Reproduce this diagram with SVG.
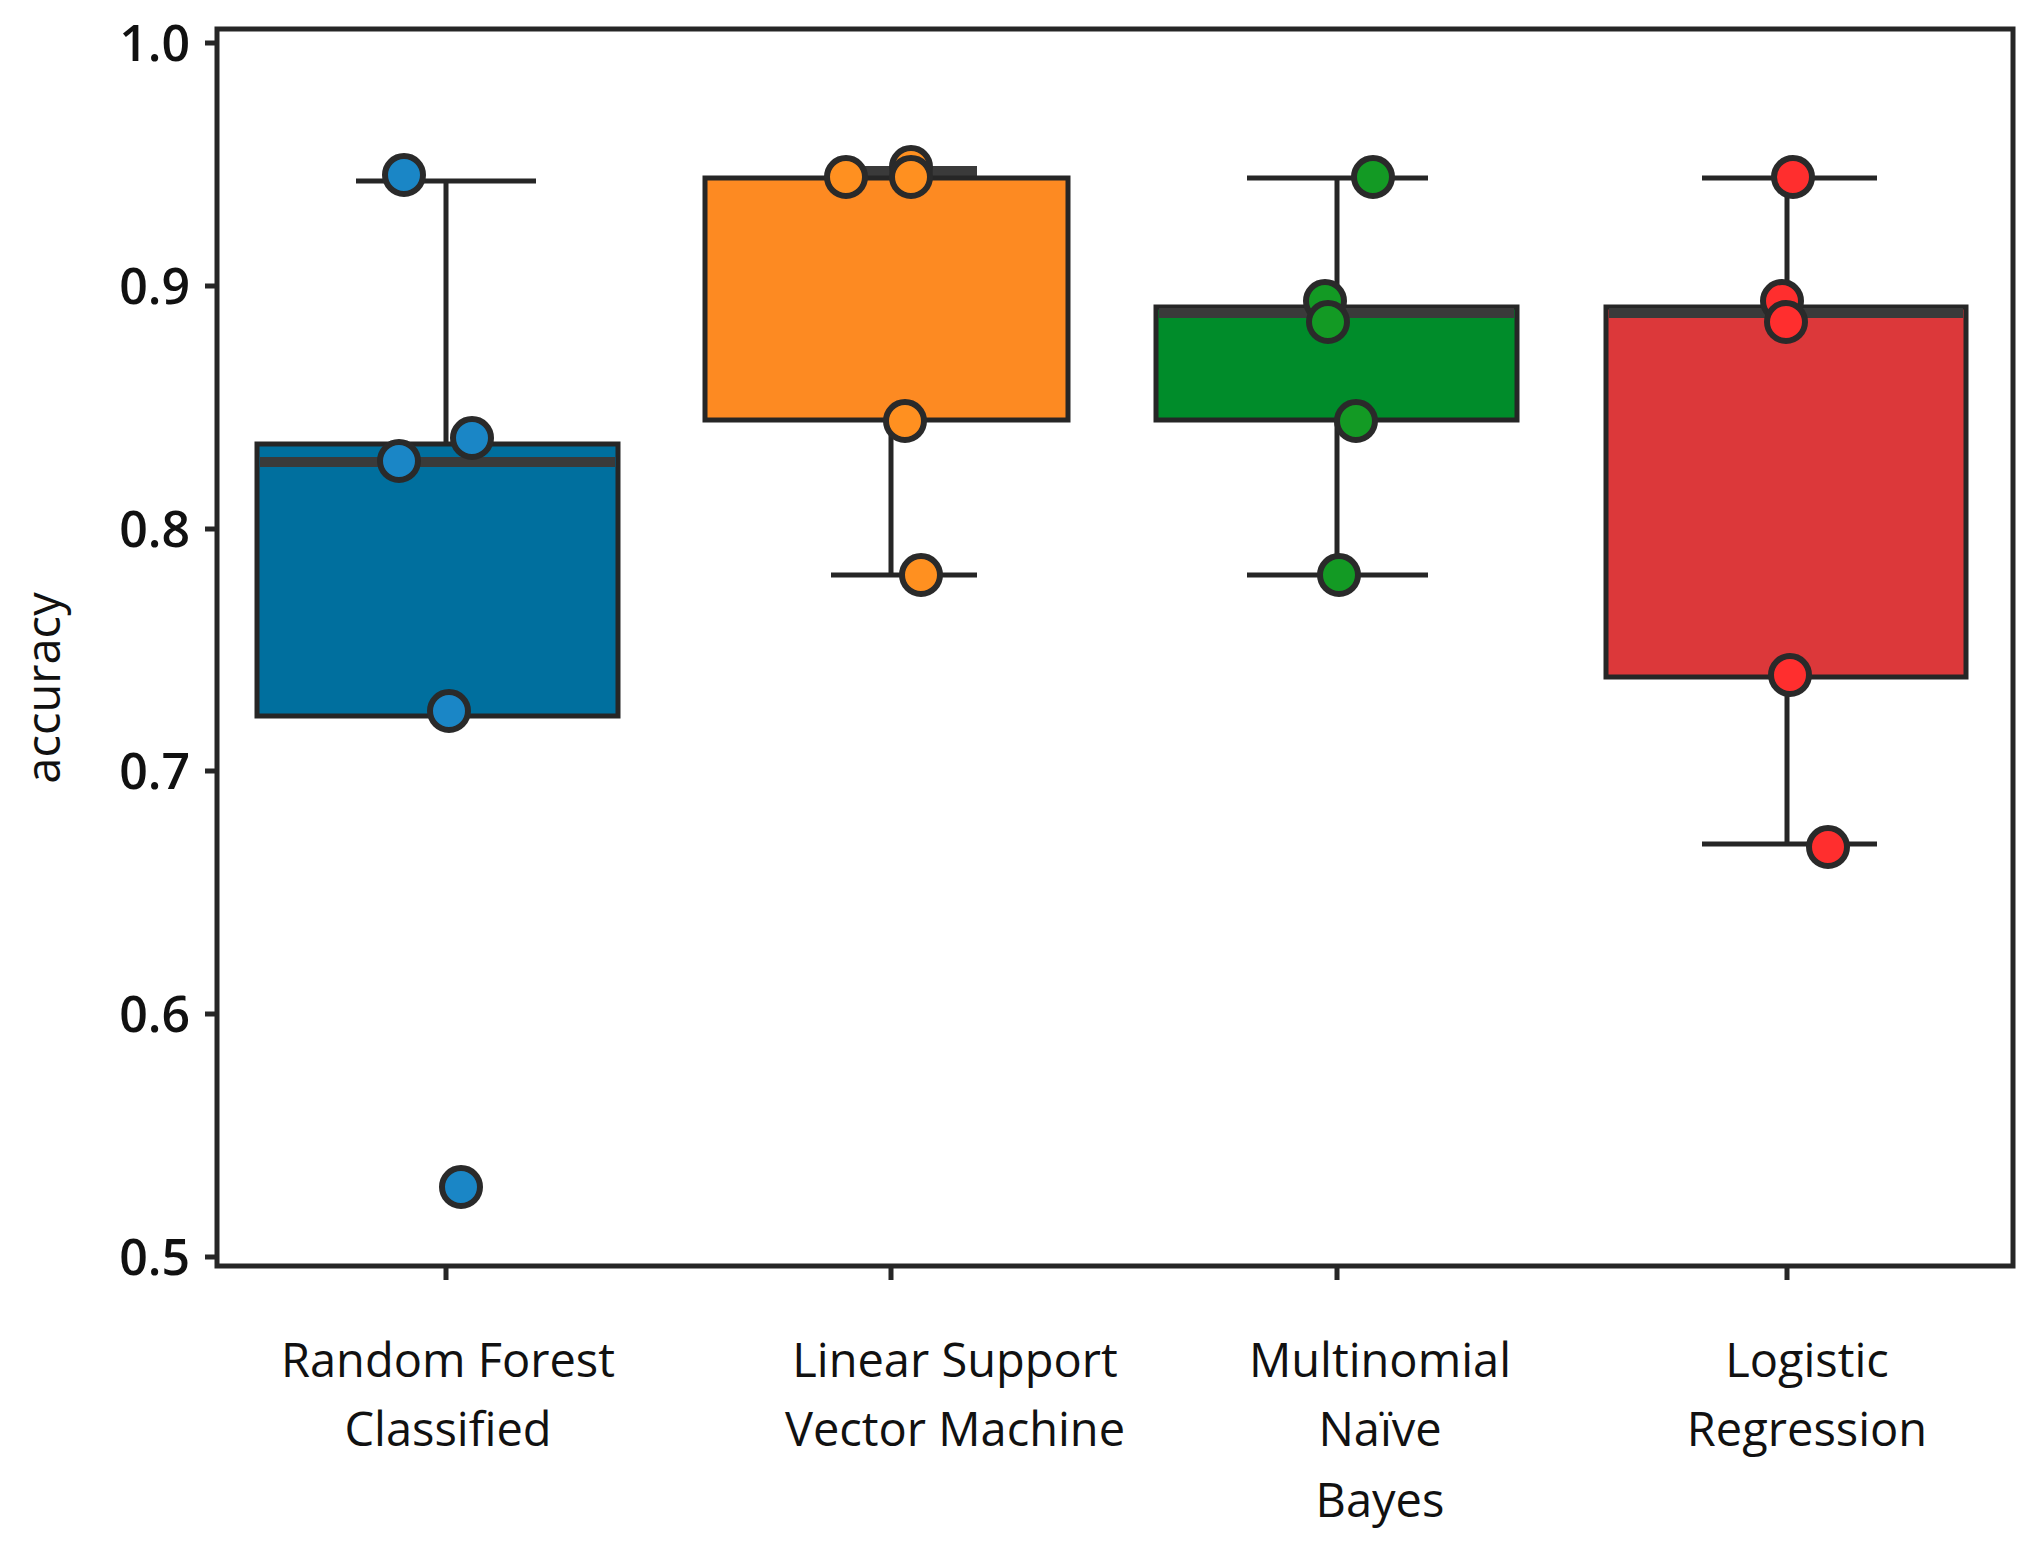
<svg xmlns="http://www.w3.org/2000/svg" width="2030" height="1550" viewBox="0 0 2030 1550">
<style>
.ln{stroke:#262626;stroke-width:5;fill:none}
.box{stroke:#262626;stroke-width:5}
.med{stroke:#3a3a3a;stroke-width:10}
.d{stroke:#2a2a2a;stroke-width:6}
.t{font-family:"Open Sans","Liberation Sans",sans-serif;font-size:47px;fill:#111;text-anchor:middle}
.y{font-family:"Open Sans","Liberation Sans",sans-serif;font-size:50px;font-weight:600;fill:#111;text-anchor:end}
</style>
<rect width="2030" height="1550" fill="#fff"/>
<g id="axes">
<rect x="217" y="29" width="1796" height="1237" class="ln"/>
<path class="ln" d="M205 43H217M205 286H217M205 529H217M205 771H217M205 1014H217M205 1257H217M446 1266V1280M891 1266V1280M1337 1266V1280M1787 1266V1280"/>
<text class="y" x="190" y="61">1.0</text>
<text class="y" x="190" y="304">0.9</text>
<text class="y" x="190" y="547">0.8</text>
<text class="y" x="190" y="789">0.7</text>
<text class="y" x="190" y="1032">0.6</text>
<text class="y" x="190" y="1275">0.5</text>
<text class="t" transform="translate(60 688) rotate(-90)">accuracy</text>
<text class="t" x="448" y="1377">Random Forest</text>
<text class="t" x="448" y="1446">Classified</text>
<text class="t" x="955" y="1377">Linear Support</text>
<text class="t" x="955" y="1446">Vector Machine</text>
<text class="t" x="1380" y="1377">Multinomial</text>
<text class="t" x="1380" y="1446">Naïve</text>
<text class="t" x="1380" y="1517">Bayes</text>
<text class="t" x="1807" y="1377">Logistic</text>
<text class="t" x="1807" y="1446">Regression</text>
</g>
<g id="rf">
<path class="ln" d="M446 181V444M356 181H536"/>
<rect class="box" x="257" y="444" width="361" height="272" fill="#006f9e"/>
<path class="med" d="M260 462H615"/>
<g class="d" fill="#1a86c6"><circle cx="404" cy="175" r="19"/><circle cx="472" cy="438" r="19"/><circle cx="399" cy="461" r="19"/><circle cx="449" cy="711" r="19"/><circle cx="461" cy="1187" r="19"/></g>
</g>
<g id="lsvm">
<path class="ln" d="M891 420V575M831 575H977"/>
<path class="med" d="M831 171H977"/>
<rect class="box" x="705" y="178" width="363" height="242" fill="#fd8a22"/>
<g class="d" fill="#ff9020"><circle cx="911" cy="167" r="19"/><circle cx="846" cy="177" r="19"/><circle cx="911" cy="177" r="19"/><circle cx="905" cy="421" r="19"/><circle cx="921" cy="575" r="19"/></g>
</g>
<g id="mnb">
<path class="ln" d="M1337 178V575M1247 178H1428M1247 575H1428"/>
<rect class="box" x="1156" y="307" width="361" height="113" fill="#008c2a"/>
<path class="med" d="M1159 313H1514"/>
<g class="d" fill="#139a24"><circle cx="1373" cy="177" r="19"/><circle cx="1325" cy="301" r="19"/><circle cx="1328" cy="322" r="19"/><circle cx="1356" cy="421" r="19"/><circle cx="1339" cy="575" r="19"/></g>
</g>
<g id="lr">
<path class="ln" d="M1787 178V844M1702 178H1877M1702 844H1877"/>
<rect class="box" x="1606" y="307" width="360" height="370" fill="#dc383a"/>
<path class="med" d="M1609 313H1963"/>
<g class="d" fill="#ff2e2e"><circle cx="1793" cy="177" r="19"/><circle cx="1782" cy="301" r="19"/><circle cx="1786" cy="322" r="19"/><circle cx="1790" cy="675" r="19"/><circle cx="1828" cy="847" r="19"/></g>
</g>
<g id="connectors"></g>
</svg>
